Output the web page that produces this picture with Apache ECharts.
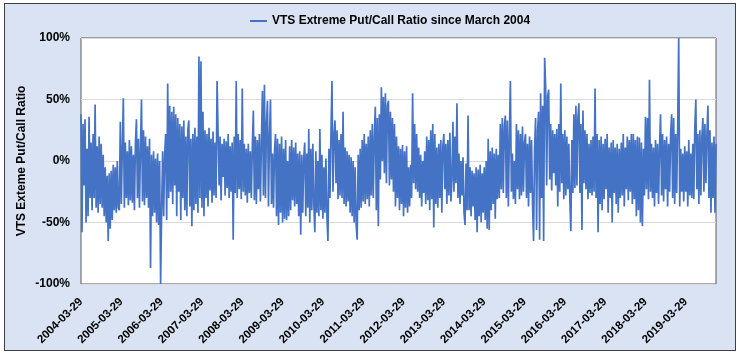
<!DOCTYPE html>
<html>
<head>
<meta charset="utf-8">
<script src="https://cdn.jsdelivr.net/npm/echarts@6/dist/echarts.min.js"></script>
<style>
  html, body { margin: 0; padding: 0; background: #ffffff; }
  #frame { position: absolute; left: 4px; top: 3px; width: 730px; height: 346px;
           background: #dae3f3; border: 1.5px solid #3f3f3f; }
  #chart { position: absolute; left: 0; top: 0; width: 740px; height: 354px; }
</style>
</head>
<body>
<div id="frame"></div>
<div id="chart"></div>
<script>
// Tick labels for the x axis (one per year, 40 samples per year)
const xLabels = ['2004-03-29','2005-03-29','2006-03-29','2007-03-29','2008-03-29','2009-03-29',
  '2010-03-29','2011-03-29','2012-03-29','2013-03-29','2014-03-29','2015-03-29',
  '2016-03-29','2017-03-29','2018-03-29','2019-03-29'];
const pointsPerYear = 40;
const yTicks = [-100, -50, 0, 50, 100];
const seriesName = 'VTS Extreme Put/Call Ratio since March 2004';
const yName = 'VTS Exteme Put/Call Ratio';

// Ratio values (%), in time order
const ratio = [
  38,-58,30,-20,34,-50,10,-45,36,-30,
  15,-40,22,-30,46,-38,12,-42,20,-35,
  14,-38,5,-45,-5,-50,-12,-65,-10,-55,
  -8,-48,-3,-40,-5,-42,0,-38,-40,32,
  -35,10,51,-38,15,-30,8,-36,17,-32,
  12,-34,5,-40,14,34,-30,18,-38,10,
  50,-33,25,-36,20,-30,12,-38,18,-87,
  5,-45,8,-42,2,-50,6,-52,0,-100,
  -40,8,-45,5,22,-48,63,-30,45,-25,
  40,-35,44,-20,38,-45,35,-25,30,-48,
  28,-30,33,
  -40,20,-45,25,33,-37,18,-53,22,-40,
  27,-35,20,-42,85,-30,81,-38,40,-45,
  25,-30,22,-37,27,-24,18,-34,24,-28,
  15,-30,65,64,-20,20,-32,14,-13,18,
  -28,16,-22,22,-30,12,-25,15,-64,20,
  -26,65,-30,22,-23,17,-31,59,-25,14,
  -28,10,-34,14,-26,8,-30,12,41,-32,
  20,-35,17,-23,22,-33,15,57,-28,62,
  -30,30,49,-37,20,50,-35,6,-38,8,
  22,-45,18,-52,14,-42,20,-50,10,-47,
  17,-48,0,-45,12,-40,
  17,-32,11,-37,15,-35,6,-45,8,-60,
  5,-42,3,15,-45,6,-38,26,-50,10,
  -40,14,-35,-58,8,-42,0,-45,26,-40,
  5,-47,-5,-42,2,-45,-65,10,-30,22,
  65,-25,20,33,-18,25,-31,17,-28,22,
  -30,40,-35,11,-37,8,-33,5,-42,3,
  -45,0,-50,-5,-52,-64,5,-40,10,-38,
  17,-33,22,-35,14,-31,20,-37,25,-28,
  30,-30,20,44,-40,35,-53,38,-15,60,
  0,52,-10,55,-18,45,49,-20,40,-15,
  35,-25,30,-37,20,-30,
  12,-40,10,-35,13,-45,8,-38,12,-42,
  -5,-37,-3,-30,55,-18,30,-23,22,-25,
  11,-30,5,-37,0,-26,8,-35,20,-32,
  17,-40,25,-31,30,-54,22,-35,11,-38,
  14,-30,17,-42,12,22,-23,14,-35,17,
  -28,23,-33,-15,32,-25,20,-18,47,-30,
  6,-35,0,-28,3,-42,-52,-2,-40,37,
  -40,-5,-45,-8,-37,-10,-48,-5,-58,-7,
  -45,-3,-50,-10,-42,-5,-48,0,-55,18,
  -56,8,-40,11,-35,6,-47,10,-31,5,
  -30,30,-23,35,-26,28,
  37,-30,33,-37,20,65,-25,6,-31,0,
  -35,30,-23,25,-31,22,-28,28,-25,15,
  22,-30,14,-37,20,-26,17,-35,-65,10,
  35,-56,25,40,-64,55,-30,45,-65,84,
  60,-20,53,58,-15,30,-24,25,-10,22,
  -20,26,-37,30,-25,63,-18,22,-31,25,
  -28,20,-23,14,-31,-57,17,-26,38,-22,
  45,-20,35,47,-26,30,-56,41,-18,25,
  -23,22,-31,14,-26,17,-28,20,-25,59,
  -30,22,-58,17,-35,20,-40,14,-31,18,
  -23,22,-42,11,-30,15,
  -50,17,-26,11,-35,14,-42,10,-30,15,
  -28,22,-37,11,-23,20,-32,17,-25,22,
  -35,22,-31,17,-45,20,-40,19,-50,15,
  -53,10,-28,36,-23,35,-31,66,-25,14,
  -30,11,-37,17,-26,14,-35,12,38,-28,
  22,-33,17,-23,20,-37,14,-25,22,38,
  -30,35,-35,22,-26,28,100,-37,10,-25,
  6,-33,12,-25,8,-37,17,-28,6,-30,
  14,-31,28,50,-23,22,-35,25,-28,20,
  35,-25,30,-18,22,45,-30,25,-42,15,
  -30,20,-42,14
];

const FONT = '"Liberation Sans", Arial, sans-serif';
const chart = echarts.init(document.getElementById('chart'), null, {renderer: 'canvas'});
chart.setOption({
  animation: false,
  backgroundColor: 'transparent',
  textStyle: { fontFamily: FONT },
  legend: {
    top: 10, left: 245,
    itemWidth: 17, itemHeight: 2, icon: 'rect', itemGap: 4,
    textStyle: { fontFamily: FONT, fontWeight: 'bold', fontSize: 12, color: '#000' },
    data: [seriesName]
  },
  grid: {
    left: 81, right: 24, top: 38, bottom: 70,
    show: true, backgroundColor: '#ffffff', borderColor: '#595959', borderWidth: 1
  },
  xAxis: {
    type: 'value',
    min: 0, max: ratio.length - 1, interval: pointsPerYear,
    axisLine: { show: false }, axisTick: { show: false }, splitLine: { show: false },
    axisLabel: {
      rotate: 45, margin: 16, showMaxLabel: false,
      fontFamily: FONT, fontWeight: 'bold', fontSize: 11.5, color: '#000',
      formatter: v => xLabels[Math.round(v / pointsPerYear)] || ''
    }
  },
  yAxis: {
    type: 'value',
    min: yTicks[0], max: yTicks[yTicks.length - 1], interval: 50,
    name: yName, nameLocation: 'middle', nameRotate: 90, nameGap: 53,
    nameMoveOverlap: false,
    nameTextStyle: { fontFamily: FONT, fontWeight: 'bold', fontSize: 12, color: '#000' },
    axisLine: { show: false }, axisTick: { show: false },
    splitLine: { lineStyle: { color: '#d9d9d9', width: 1 } },
    axisLabel: {
      margin: 11, fontFamily: FONT, fontWeight: 'bold', fontSize: 12, color: '#000',
      formatter: v => v + '%'
    }
  },
  series: [{
    name: seriesName,
    type: 'line',
    data: ratio.map((v, i) => [i, v]),
    showSymbol: false,
    symbol: 'none',
    sampling: null,
    color: '#4472c4',
    lineStyle: { color: '#4472c4', width: 1.7 }
  }]
});
</script>
</body>
</html>
